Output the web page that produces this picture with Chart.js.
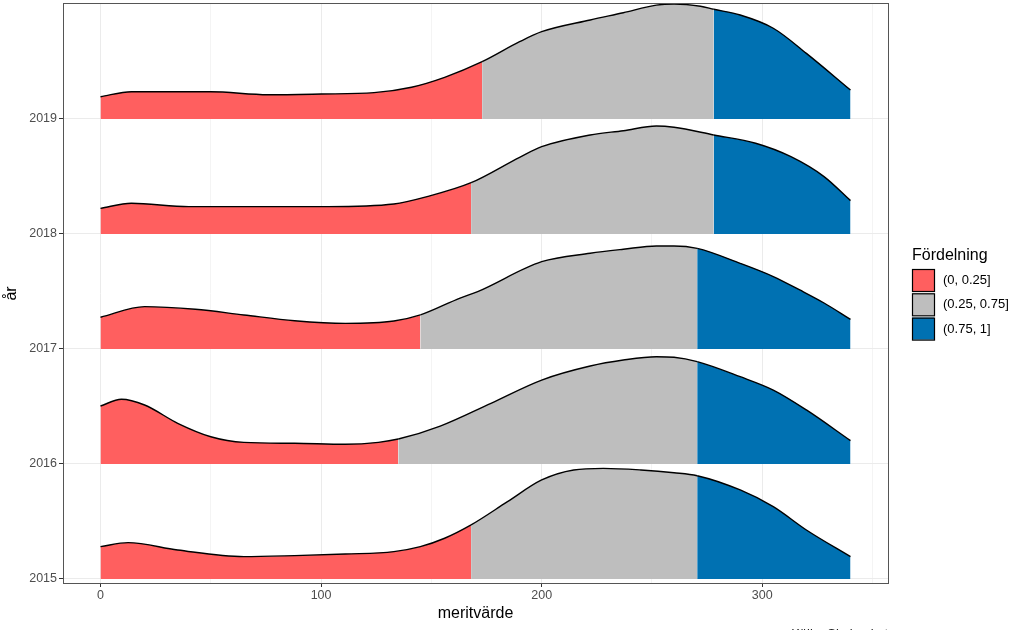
<!DOCTYPE html>
<html><head><meta charset="utf-8">
<script src="https://cdn.jsdelivr.net/npm/chart.js@4.4.0/dist/chart.umd.min.js"></script>
<style>html,body{margin:0;padding:0;background:#fff;} canvas{display:block}</style>
</head><body>
<canvas id="c" width="1024" height="630"></canvas>
<script>
const years = [2015, 2016, 2017, 2018, 2019];
const xTicks = [0, 100, 200, 300];
const xMinorTicks = [50, 150, 250, 350];
const legendTitle = 'Fördelning';
const legendLabels = ['(0, 0.25]', '(0.25, 0.75]', '(0.75, 1]'];
const fillColors = ['#FF5F5F', '#BEBEBE', '#0071B2'];
const xTitle = 'meritvärde';
const yTitle = 'år';
const caption = 'Källa: Skolverket';

// quantile cut points (25 % and 75 %) per year, same order as years
const q25 = [168, 135, 145, 168, 173];
const q75 = [270.5, 270.5, 270.5, 278, 278];

// density curves (scaled ridge heights) per year
const x2015 = [0, 12.5, 35, 65, 88, 111, 133, 145, 156, 168, 184.5, 200, 214.5, 228, 245, 260, 270.5, 290, 305, 320, 340];
const h2015 = [0.281, 0.316, 0.252, 0.194, 0.203, 0.217, 0.238, 0.281, 0.354, 0.47, 0.672, 0.861, 0.948, 0.962, 0.948, 0.924, 0.898, 0.774, 0.629, 0.426, 0.194];

const x2016 = [0, 9.5, 20, 35, 50, 65, 88, 111, 126, 135, 154, 177, 200, 222, 237, 252, 260, 270.5, 290, 305, 320, 340];
const h2016 = [0.504, 0.563, 0.513, 0.354, 0.237, 0.188, 0.18, 0.171, 0.188, 0.217, 0.33, 0.528, 0.73, 0.852, 0.904, 0.933, 0.928, 0.89, 0.759, 0.643, 0.47, 0.203];

const x2017 = [0, 20, 43, 65, 88, 111, 133, 145, 163, 171, 200, 222, 237, 252, 260, 270.5, 290, 305, 317, 328, 340];
const h2017 = [0.276, 0.368, 0.345, 0.296, 0.246, 0.223, 0.243, 0.296, 0.443, 0.499, 0.759, 0.832, 0.867, 0.896, 0.896, 0.875, 0.745, 0.63, 0.513, 0.40, 0.258];

const x2018 = [0, 14, 40, 73, 103, 133, 148, 168, 190, 200, 222, 237, 252, 260, 278, 297, 313, 328, 340];
const h2018 = [0.223, 0.267, 0.238, 0.238, 0.238, 0.261, 0.325, 0.446, 0.667, 0.759, 0.861, 0.898, 0.939, 0.928, 0.861, 0.789, 0.672, 0.499, 0.29];

const x2019 = [0, 14, 50, 76, 100, 124, 141, 156, 173, 190, 200, 222, 237, 252, 260, 272, 278, 290, 305, 320, 340];
const h2019 = [0.194, 0.237, 0.237, 0.211, 0.217, 0.229, 0.276, 0.362, 0.498, 0.672, 0.759, 0.861, 0.924, 0.99, 1.0, 0.98, 0.954, 0.904, 0.789, 0.571, 0.252];

const curveX = [x2015, x2016, x2017, x2018, x2019];
const curveH = [h2015, h2016, h2017, h2018, h2019];

const FONT = '"Liberation Sans", Arial, sans-serif';
Chart.defaults.font.family = FONT;

const datasets = years.map((yr, i) => ({
  label: String(yr),
  data: curveX[i].map((x, j) => ({ x: x, y: yr + curveH[i][j] })),
  borderColor: '#000000',
  borderWidth: 1.4,
  pointRadius: 0,
  cubicInterpolationMode: 'monotone',
  fill: { value: yr },
  backgroundColor: fillColors[1],
  segment: {
    backgroundColor: ctx => {
      const x = ctx.p0.parsed.x;
      return x < q25[i] ? fillColors[0] : (x < q75[i] ? fillColors[1] : fillColors[2]);
    }
  }
}));

const extras = {
  id: 'extras',
  afterDraw(chart) {
    const ctx = chart.ctx;
    const a = chart.chartArea;
    ctx.save();
    // panel border
    ctx.strokeStyle = '#555555';
    ctx.lineWidth = 1;
    ctx.strokeRect(Math.round(a.left) + 0.5, Math.round(a.top) - 0.5, Math.round(a.right - a.left), Math.round(a.bottom - a.top) + 1);
    // legend
    const lx = a.right + 24;
    ctx.fillStyle = '#000000';
    ctx.font = '16px ' + FONT;
    ctx.textAlign = 'left';
    ctx.textBaseline = 'alphabetic';
    ctx.fillText(legendTitle, lx, 260);
    ctx.font = '13px ' + FONT;
    ctx.textBaseline = 'middle';
    legendLabels.forEach((lab, k) => {
      const ky = 269 + k * 24.3;
      ctx.fillStyle = fillColors[k];
      ctx.fillRect(lx, ky, 22, 22);
      ctx.strokeStyle = '#000000';
      ctx.lineWidth = 1.2;
      ctx.strokeRect(lx + 0.5, ky + 0.5, 22, 22);
      ctx.fillStyle = '#000000';
      ctx.fillText(lab, lx + 31, ky + 11.5);
    });
    // caption (mostly below the visible area)
    ctx.fillStyle = '#222222';
    ctx.font = '13px ' + FONT;
    ctx.textAlign = 'right';
    ctx.textBaseline = 'alphabetic';
    ctx.fillText(caption, a.right, 638);
    ctx.restore();
  }
};

new Chart(document.getElementById('c'), {
  type: 'line',
  data: { datasets: datasets },
  options: {
    responsive: false,
    animation: false,
    events: [],
    layout: { padding: { top: 4, right: 136, left: 0, bottom: 0 } },
    plugins: { legend: { display: false }, tooltip: { enabled: false } },
    scales: {
      x: {
        type: 'linear',
        min: -17, max: 357,
        afterBuildTicks: s => { s.ticks = xTicks.concat(xMinorTicks).sort((a, b) => a - b).map(v => ({ value: v })); },
        afterFit: s => { s.height = 47; },
        border: { display: false },
        grid: {
          color: c => (xTicks.includes(c.tick.value) ? '#EBEBEB' : '#F4F4F4'),
          lineWidth: 1,
          tickLength: 4,
          tickColor: c => (xTicks.includes(c.tick.value) ? '#333333' : 'rgba(0,0,0,0)'),
          tickWidth: 1
        },
        ticks: {
          autoSkip: false, maxRotation: 0,
          padding: 1,
          color: '#4D4D4D',
          font: { size: 12.5 },
          callback: v => (xTicks.includes(v) ? String(v) : '')
        },
        title: { display: true, text: xTitle, color: '#000000', font: { size: 16 }, padding: { top: 0, bottom: 7 } }
      },
      y: {
        type: 'linear',
        min: 2014.965, max: 2020.0,
        afterBuildTicks: s => { s.ticks = years.map(v => ({ value: v })); },
        afterFit: s => { s.width = 63; s.paddingTop = 0; s.paddingBottom = 0; },
        border: { display: false },
        grid: { color: '#EBEBEB', lineWidth: 1, tickLength: 4, tickColor: '#333333', tickWidth: 1 },
        ticks: { autoSkip: false, padding: 2, color: '#4D4D4D', font: { size: 12.5, lineHeight: 0.6 }, callback: v => String(v) },
        title: { display: true, text: yTitle, color: '#000000', font: { size: 16 }, padding: { top: 2, bottom: 0 } }
      }
    }
  },
  plugins: [extras]
});
</script>
</body></html>
